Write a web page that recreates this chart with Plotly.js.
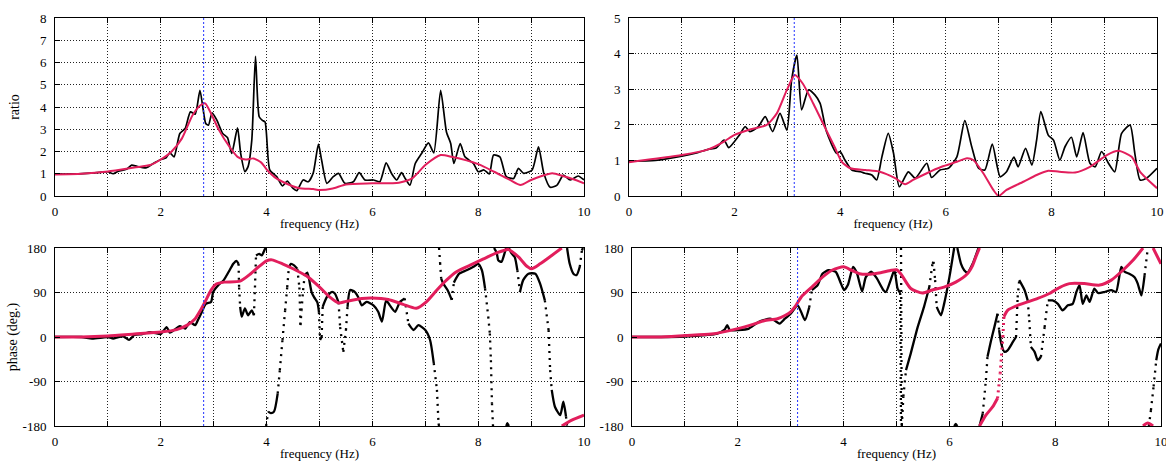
<!DOCTYPE html>
<html><head><meta charset="utf-8">
<script src="https://cdn.plot.ly/plotly-3.0.1.min.js"></script>
<style>html,body{margin:0;padding:0;background:#fff}#chart{width:1166px;height:461px}</style>
</head><body><div id="chart"></div>
<script>
// ---------- data ----------
const xTickVals = [0,1,2,3,4,5,6,7,8,9,10];
const xTickText = ['0','','2','','4','','6','','8','','10'];
const phaseTicks = [-180,-90,0,90,180];
const phaseTickText = ['-180','-90','0','90','180'];

const natFreqLeft = 2.81;
const natFreqRight = 3.13;

// top-left: observed ratio
const tlObsF = [0,0.3,0.6,0.9,1.0,1.1,1.2,1.35,1.45,1.55,1.73,1.85,2.0,2.1,2.17,2.25,2.36,2.46,2.56,2.65,2.74,2.8,2.85,2.9,2.97,3.06,3.17,3.26,3.34,3.45,3.51,3.59,3.65,3.72,3.79,3.86,3.92,3.97,4.06,4.19,4.3,4.39,4.5,4.57,4.69,4.79,4.88,4.98,5.04,5.14,5.26,5.36,5.48,5.64,5.75,5.86,6.02,6.14,6.26,6.36,6.46,6.55,6.62,6.71,6.81,6.93,7.06,7.16,7.29,7.4,7.48,7.54,7.66,7.75,7.91,8.0,8.11,8.21,8.29,8.41,8.53,8.67,8.76,8.86,9.02,9.14,9.24,9.36,9.49,9.61,9.74,9.89,10];
const tlObsR = [0.99,0.99,1.02,1.07,1.09,1.0,1.12,1.2,1.39,1.33,1.27,1.45,1.64,1.72,1.94,1.76,2.81,3.03,3.78,3.68,4.75,3.9,3.26,3.18,3.74,3.41,2.81,2.63,1.91,3.06,1.91,1.09,1.32,2.51,6.28,3.56,3.4,3.33,1.17,0.87,0.45,0.67,0.34,0.24,0.72,0.64,1.02,2.33,1.61,0.57,0.87,1.02,0.57,0.64,1.05,0.72,0.72,0.64,1.49,1.02,0.72,1.05,0.79,0.49,1.46,1.91,2.39,1.94,4.75,2.88,2.36,1.46,2.36,1.76,1.46,1.09,1.17,0.99,1.84,1.76,0.87,0.79,1.24,1.02,1.17,2.21,1.02,0.39,0.49,0.94,0.72,0.9,0.72];
// top-left: fitted ratio
const tlFitF = [0,0.5,1.0,1.5,1.8,2.0,2.2,2.4,2.6,2.75,2.84,2.95,3.1,3.3,3.45,3.6,3.75,3.9,4.0,4.15,4.3,4.6,4.88,5.0,5.25,5.5,6.0,6.5,6.75,7.0,7.29,7.5,8.0,8.3,8.6,8.8,9.0,9.2,9.4,9.6,9.8,10];
const tlFitR = [0.97,1.0,1.1,1.28,1.39,1.64,1.99,2.59,3.63,4.08,4.16,3.71,2.96,2.21,1.76,1.64,1.69,1.5,1.2,0.85,0.64,0.36,0.31,0.27,0.34,0.52,0.57,0.6,0.79,1.39,1.84,1.76,1.43,1.09,0.72,0.49,0.72,0.9,1.02,0.9,0.75,0.57];

// top-right: observed ratio
const trObsF = [0,0.5,1.0,1.3,1.5,1.65,1.8,1.89,2.09,2.2,2.29,2.45,2.58,2.72,2.86,2.99,3.08,3.18,3.27,3.4,3.52,3.62,3.74,3.93,4.0,4.09,4.22,4.38,4.47,4.6,4.69,4.79,4.91,5.01,5.12,5.29,5.42,5.64,5.73,5.89,6.05,6.21,6.36,6.49,6.62,6.74,6.88,7.03,7.15,7.29,7.37,7.51,7.63,7.72,7.8,7.94,8.04,8.16,8.26,8.38,8.48,8.6,8.73,8.83,8.95,9.08,9.2,9.33,9.49,9.58,9.68,9.8,10];
const trObsR = [0.98,1.0,1.12,1.22,1.31,1.35,1.57,1.36,1.71,1.95,1.81,1.95,2.23,1.81,2.32,1.85,3.26,3.96,2.42,2.98,2.84,2.6,1.81,1.2,1.25,1.01,0.73,0.68,0.64,0.59,0.45,1.1,1.76,1.2,0.26,0.68,0.5,0.92,0.52,0.73,0.78,1.1,2.12,1.39,0.78,0.73,1.46,0.54,0.68,1.09,0.82,1.34,0.87,1.57,2.37,1.71,1.57,1.01,1.39,1.65,1.1,1.78,0.92,0.82,1.25,0.92,0.68,1.76,1.99,1.2,0.45,0.5,0.78];
// top-right: fitted ratio
const trFitF = [0,1.0,1.5,1.8,1.99,2.29,2.6,2.8,2.99,3.14,3.29,3.49,3.69,3.89,4.03,4.19,4.48,4.75,5.04,5.23,5.38,5.64,5.92,6.21,6.4,6.52,6.71,6.9,7.0,7.15,7.47,7.72,7.94,8.15,8.45,8.73,9.05,9.27,9.52,9.68,10];
const trFitR = [0.95,1.15,1.31,1.53,1.71,1.87,1.99,2.32,2.98,3.4,3.16,2.6,1.99,1.39,0.96,0.78,0.73,0.68,0.5,0.33,0.45,0.64,0.82,0.96,1.06,1.01,0.64,0.17,0.0,0.17,0.4,0.59,0.71,0.68,0.66,0.82,1.15,1.27,1.1,0.68,0.22];

// bottom-left: observed phase (null = wrap at +/-180)
const blObsF = [0,0.5,0.7,0.9,1.0,1.1,1.2,1.3,1.4,1.5,1.65,1.8,1.9,2.0,2.11,2.17,2.25,2.36,2.46,2.55,2.65,2.7,2.76,2.85,2.95,2.99,3.09,3.19,3.3,3.37,3.43,3.47,3.48,3.5,3.53,3.59,3.65,3.72,3.76,3.78,3.8,3.86,3.91,3.97,3.99,null,
  3.99,4.03,4.08,4.14,4.21,4.25,4.3,4.35,4.39,4.42,4.46,4.52,4.58,4.62,4.64,4.66,4.69,4.72,4.77,4.85,4.9,4.96,4.99,5.01,5.04,5.06,5.14,5.23,5.29,5.36,5.39,5.45,5.5,5.53,5.58,5.67,5.73,5.8,5.89,6.02,6.11,6.18,6.26,6.33,6.43,6.52,6.61,6.68,6.78,6.87,7.0,7.09,7.16,7.22,7.25,7.26,null,
  7.26,7.28,7.3,7.34,7.42,7.5,7.54,7.64,7.78,7.91,8.0,8.07,8.13,8.19,8.22,8.24,8.26,8.28,null,
  8.3,8.35,8.38,8.44,8.5,8.53,null,
  8.53,8.55,8.58,null,
  8.58,8.63,8.69,8.74,8.79,8.85,8.95,9.08,9.17,9.26,9.33,9.36,9.39,9.45,9.55,9.61,9.66,9.68,null,
  9.68,9.73,9.8,9.86,9.92,9.96,9.98];
const blObsD = [0,0,-3,-1,0,-3,0,1,-6,4,6,10,8,6,20,9,14,22,17,30,24,34,47,67,71,91,105,115,135,148,154,148,100,61,41,58,44,54,44,100,165,168,165,178,180,null,
  -180,-151,-154,-151,-114,-67,-6,54,101,140,148,145,138,100,24,54,95,125,130,91,80,70,50,-6,0,61,81,91,88,70,20,-30,14,61,95,91,81,64,71,64,51,31,74,64,51,71,78,27,14,24,14,-6,-53,-107,-175,-180,null,
  180,150,118,108,95,75,110,128,135,142,148,135,98,41,7,-47,-134,-180,null,
  180,170,155,152,170,180,null,
  -180,-174,-180,null,
  180,169,162,135,91,115,128,128,108,74,14,-67,-107,-141,-158,-131,-161,-180,null,
  180,148,128,125,142,175,180];
// bottom-left: fitted phase
const blFitF = [0,0.5,1.0,1.5,2.0,2.3,2.5,2.65,2.75,2.85,2.95,3.05,3.2,3.5,3.7,3.85,4.0,4.1,4.3,4.5,4.79,5.0,5.19,5.36,5.5,5.8,5.99,6.3,6.58,6.83,7.02,7.22,7.4,7.59,7.84,8.1,8.35,8.57,8.76,8.92,9.01,9.17,9.39,9.58,null,9.58,9.77,10];
const blFitD = [0,0,2,6,10,15,24,37,54,74,95,107,111,113,128,142,154,156,148,138,121,101,81,69,72,78,79,76,66,58,71,95,115,132,145,158,170,177,162,143,138,148,165,180,null,-180,-168,-158];

// bottom-right: observed phase
const brObsF = [0,0.51,1.0,1.4,1.61,1.75,1.8,1.85,2.01,2.21,2.4,2.61,2.7,2.79,2.89,3.0,3.13,3.2,3.27,3.35,3.4,3.51,3.6,3.71,3.85,3.95,4.01,4.08,4.18,4.25,4.35,4.42,4.52,4.62,4.75,4.8,4.89,4.96,5.02,5.07,5.085,null,
  5.085,5.1,5.13,5.18,5.27,5.4,5.52,5.62,5.68,5.7,5.73,5.76,5.84,5.9,6.0,6.09,null,
  6.09,6.12,6.15,null,
  6.15,6.22,6.28,6.34,6.44,6.5,6.55,null,
  6.57,6.63,6.69,6.72,6.79,6.85,6.91,6.94,6.98,7.04,7.1,7.2,7.26,7.29,7.32,7.42,7.48,7.51,7.54,7.61,7.67,7.73,7.8,7.86,7.95,8.05,8.14,8.24,8.33,8.4,8.46,8.52,8.59,8.65,8.74,8.81,8.93,9.06,9.15,9.25,9.31,9.4,9.5,9.56,9.63,9.69,9.75,null,
  9.77,9.81,9.86,9.91,9.95,10];
const brObsD = [0,0,1,4,7,15,24,14,14,17,31,37,33,27,37,47,64,50,34,60,95,105,128,135,132,108,95,105,142,130,92,121,132,120,95,91,115,135,98,89,-180,null,
  180,-180,-120,-67,-33,20,61,101,148,152,115,61,44,67,121,180,null,
  -180,-176,-180,null,
  180,148,135,130,148,165,180,null,
  -180,-155,-87,-40,-6,20,47,14,-13,-30,-27,-10,0,80,115,95,74,34,-20,-30,-47,-40,20,74,74,67,54,64,67,91,105,67,84,71,98,89,91,95,91,142,132,128,121,108,84,125,180,null,
  -180,-148,-100,-47,-25,-13];
// bottom-right: fitted phase
const brFitF = [0,0.5,1.0,1.5,2.0,2.3,2.5,2.75,2.9,3.0,3.1,3.2,3.4,3.6,3.8,4.0,4.15,4.3,4.5,4.7,4.9,5.0,5.08,5.27,5.49,5.68,5.9,6.12,6.34,6.44,6.5,6.57,null,
  6.57,6.69,6.82,6.91,6.96,7.01,7.03,7.1,7.29,7.48,7.67,7.89,8.08,8.27,8.55,8.84,9.06,9.28,9.47,9.66,null,
  9.66,9.75,9.85,null,
  9.85,10];
const brFitD = [0,0,3,6,17,26,33,37,44,51,64,81,101,121,136,142,135,128,127,130,135,136,128,98,89,95,101,111,128,145,162,180,null,
  -180,-158,-141,-124,-74,0,41,54,64,71,78,88,100,108,108,105,115,135,155,180,null,
  -180,-174,-180,null,
  180,148];

// ---------- chart ----------
const RED = 'rgb(226,30,92)';
const FONT = '"Liberation Serif", "DejaVu Serif", "Times New Roman", serif';
const STEEP = 700; // deg per Hz: sparse sampled parts drawn as dots

// split a phase series into gently sloping runs (solid) and steep jumps (dotted)
function splitSteep(xs, ys) {
  const fx = [], fy = [], sx = [], sy = [];
  let lastEnd = -1;
  for (let i = 0; i < xs.length - 1; i++) {
    if (xs[i] === null || xs[i + 1] === null) continue;
    const s = Math.abs((ys[i + 1] - ys[i]) / (xs[i + 1] - xs[i] || 1e-6));
    if (s > STEEP) {
      sx.push(xs[i], xs[i + 1], null); sy.push(ys[i], ys[i + 1], null);
    } else {
      if (lastEnd !== i) {
        if (fx.length) { fx.push(null); fy.push(null); }
        fx.push(xs[i]); fy.push(ys[i]);
      }
      fx.push(xs[i + 1]); fy.push(ys[i + 1]); lastEnd = i + 1;
    }
  }
  return {fx, fy, sx, sy};
}

function lineTrace(x, y, xa, ya, color, w, shape, dash) {
  return {x, y, xaxis: xa, yaxis: ya, type: 'scatter', mode: 'lines', connectgaps: false,
          line: {color, width: w, shape, smoothing: 0.6, dash: dash || 'solid'},
          hoverinfo: 'skip', showlegend: false};
}
function phaseTraces(x, y, xa, ya, color, w, dotDash) {
  const p = splitSteep(x, y);
  return [lineTrace(p.fx, p.fy, xa, ya, color, w, 'spline'),
          lineTrace(p.sx, p.sy, xa, ya, color, w, 'linear', dotDash)];
}

const traces = [
  lineTrace(tlObsF, tlObsR, 'x', 'y', '#000', 1.7, 'spline'),
  lineTrace(tlFitF, tlFitR, 'x', 'y', RED, 2, 'spline'),
  lineTrace(trObsF, trObsR, 'x2', 'y2', '#000', 1.7, 'spline'),
  lineTrace(trFitF, trFitR, 'x2', 'y2', RED, 2, 'spline'),
  ...phaseTraces(blObsF, blObsD, 'x3', 'y3', '#000', 2.3, '2px,5px'),
  ...phaseTraces(blFitF, blFitD, 'x3', 'y3', RED, 3, '2px,4px'),
  ...phaseTraces(brObsF, brObsD, 'x4', 'y4', '#000', 2.3, '2px,5px'),
  ...phaseTraces(brFitF, brFitD, 'x4', 'y4', RED, 3, '2px,4px')
];

const gridCommon = {
  showgrid: true, gridcolor: '#222', griddash: '1px,2px', gridwidth: 1,
  zeroline: false, showline: true, linecolor: '#000', linewidth: 1, mirror: 'ticks',
  ticks: 'inside', ticklen: 5, tickcolor: '#000', tickwidth: 1,
  tickfont: {family: FONT, size: 13, color: '#000'}, fixedrange: true,
  ticklabeloverflow: 'allow'
};
function xAxis(domain, anchor) {
  return Object.assign({}, gridCommon, {
    domain, anchor, range: [0, 10], tickmode: 'array', tickvals: xTickVals, ticktext: xTickText,
    ticklabelstandoff: 3,
    title: {text: 'frequency (Hz)', font: {family: FONT, size: 13, color: '#000'}, standoff: 1}
  });
}
function yAxis(domain, anchor, range, tickvals, ticktext, title, standoff) {
  const a = Object.assign({}, gridCommon, {
    domain, anchor, range, tickmode: 'array', tickvals, ticktext, ticklabelstandoff: 5
  });
  if (title) a.title = {text: title, font: {family: FONT, size: 14, color: '#000'}, standoff};
  return a;
}

const W = 1166, H = 461;
const xLeft = [55 / W, 584 / W];
const xRightTop = [629 / W, 1157 / W];
const xRightBot = [632 / W, 1161 / W];
const yTop = [1 - 196 / H, 1 - 18 / H];
const yBot = [1 - 426 / H, 1 - 248 / H];

function natLine(xa, ya, f) {
  return {type: 'line', xref: xa, yref: ya + ' domain', x0: f, x1: f, y0: 0, y1: 1,
          line: {color: '#2233ff', width: 1, dash: '2px,2px'}, layer: 'above'};
}

const ratioTopL = [0,1,2,3,4,5,6,7,8];
const ratioTopR = [0,1,2,3,4,5];

const layout = {
  width: W, height: H, margin: {l: 0, r: 0, t: 0, b: 0},
  paper_bgcolor: '#fff', plot_bgcolor: '#fff', showlegend: false,
  font: {family: FONT, size: 13, color: '#000'},
  xaxis: xAxis(xLeft, 'y'),
  yaxis: yAxis(yTop, 'x', [0, 8], ratioTopL, ratioTopL.map(String), 'ratio', 17),
  xaxis2: xAxis(xRightTop, 'y2'),
  yaxis2: yAxis(yTop, 'x2', [0, 5], ratioTopR, ratioTopR.map(String), null),
  xaxis3: xAxis(xLeft, 'y3'),
  yaxis3: yAxis(yBot, 'x3', [-180, 180], phaseTicks, phaseTickText, 'phase (deg.)', 1),
  xaxis4: xAxis(xRightBot, 'y4'),
  yaxis4: yAxis(yBot, 'x4', [-180, 180], phaseTicks, phaseTickText, null),
  shapes: [
    natLine('x', 'y', natFreqLeft), natLine('x2', 'y2', natFreqRight),
    natLine('x3', 'y3', natFreqLeft), natLine('x4', 'y4', natFreqRight)
  ]
};

Plotly.newPlot('chart', traces, layout, {displayModeBar: false, staticPlot: true});
</script>
</body></html>
